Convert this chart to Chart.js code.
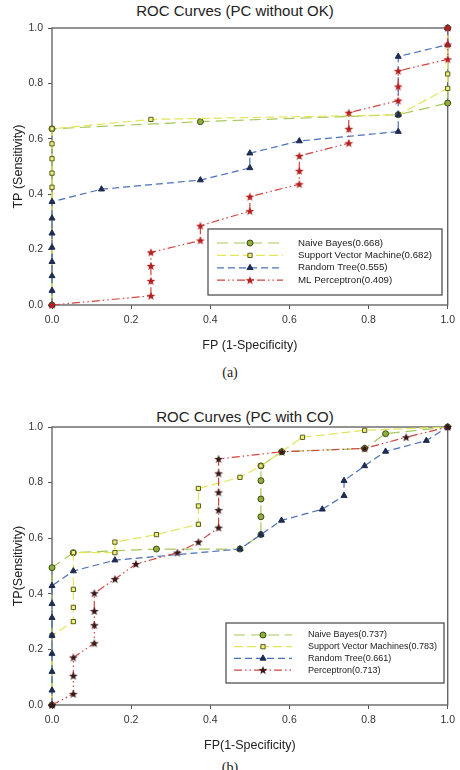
<!DOCTYPE html>
<html>
<head>
<meta charset="utf-8">
<script src="https://cdn.jsdelivr.net/npm/chart.js@4.4.1/dist/chart.umd.min.js"></script>
<style>
  body { margin: 0; background: #fff; width: 460px; height: 770px; position: relative; overflow: hidden; font-family: "Liberation Sans", Arial, sans-serif; }
  .box { position: absolute; left: 0; width: 460px; }
  .ttl { position: absolute; font-size: 15px; color: #222; white-space: nowrap; transform: translateX(-50%); line-height: 18px; }
  .cap { position: absolute; font-family: "Liberation Serif", "Times New Roman", serif; font-size: 14px; color: #222; transform: translateX(-50%); line-height: 16px; }
</style>
</head>
<body>
<div class="ttl" style="left:235px;top:2px">ROC Curves (PC without OK)</div>
<div class="box" style="top:0;height:360px"><canvas id="rocA"></canvas></div>
<div class="cap" style="left:230px;top:365px">(a)</div>

<div class="ttl" style="left:245px;top:408px">ROC Curves (PC with CO)</div>
<div class="box" style="top:390px;height:370px"><canvas id="rocB"></canvas></div>
<div class="cap" style="left:230px;top:760px">(b)</div>

<script>
// --- chart (a): PC without OK ---
const tickValues = [0, 0.2, 0.4, 0.6, 0.8, 1.0];

const labelsA = ['Naive Bayes(0.668)', 'Support Vector Machine(0.682)', 'Random Tree(0.555)', 'ML Perceptron(0.409)'];
const nbFpA = [0, 0, 0.375, 0.875, 1, 1];
const nbTpA = [0, 0.636, 0.662, 0.687, 0.729, 1];
const svmFpA = [0, 0, 0, 0, 0, 0, 0.25, 0.875, 1, 1, 1];
const svmTpA = [0, 0.425, 0.476, 0.528, 0.582, 0.636, 0.670, 0.687, 0.782, 0.834, 1];
const rtFpA = [0, 0, 0, 0, 0, 0, 0, 0, 0.125, 0.375, 0.5, 0.5, 0.625, 0.875, 0.875, 0.875, 1, 1];
const rtTpA = [0, 0.052, 0.105, 0.156, 0.208, 0.259, 0.313, 0.373, 0.418, 0.451, 0.495, 0.548, 0.592, 0.626, 0.687, 0.897, 0.94, 1];
const mlpFpA = [0, 0.25, 0.25, 0.25, 0.25, 0.375, 0.375, 0.5, 0.5, 0.625, 0.625, 0.625, 0.75, 0.75, 0.75, 0.875, 0.875, 0.875, 1, 1, 1];
const mlpTpA = [0, 0.033, 0.087, 0.141, 0.19, 0.233, 0.286, 0.339, 0.391, 0.436, 0.484, 0.538, 0.584, 0.636, 0.694, 0.738, 0.789, 0.845, 0.887, 0.94, 1];

// --- chart (b): PC with CO ---
const labelsB = ['Naive Bayes(0.737)', 'Support Vector Machines(0.783)', 'Random Tree(0.661)', 'Perceptron(0.713)'];
const nbFpB = [0, 0, 0.054, 0.264, 0.475, 0.528, 0.528, 0.528, 0.528, 0.528, 0.581, 0.790, 0.843, 1];
const nbTpB = [0, 0.494, 0.548, 0.561, 0.561, 0.613, 0.677, 0.741, 0.807, 0.860, 0.911, 0.923, 0.976, 1];
const svmFpB = [0, 0, 0.054, 0.054, 0.054, 0.054, 0.159, 0.159, 0.264, 0.37, 0.37, 0.37, 0.475, 0.528, 0.633, 0.79, 1];
const svmTpB = [0, 0.25, 0.30, 0.351, 0.416, 0.548, 0.548, 0.586, 0.613, 0.65, 0.716, 0.779, 0.819, 0.86, 0.963, 0.988, 1];
const rtFpB = [0, 0, 0, 0, 0, 0, 0, 0, 0.054, 0.159, 0.475, 0.528, 0.580, 0.683, 0.738, 0.738, 0.790, 0.843, 0.946, 1];
const rtTpB = [0, 0.053, 0.120, 0.185, 0.250, 0.314, 0.364, 0.429, 0.482, 0.521, 0.561, 0.613, 0.664, 0.704, 0.753, 0.807, 0.860, 0.912, 0.951, 1];
const mlpFpB = [0, 0.054, 0.054, 0.054, 0.107, 0.107, 0.107, 0.107, 0.159, 0.212, 0.317, 0.37, 0.421, 0.421, 0.421, 0.421, 0.421, 0.581, 0.790, 0.895, 1];
const mlpTpB = [0, 0.04, 0.105, 0.171, 0.222, 0.287, 0.338, 0.402, 0.453, 0.507, 0.548, 0.586, 0.638, 0.701, 0.765, 0.833, 0.885, 0.911, 0.923, 0.963, 1];

const pts = (xs, ys) => xs.map((x, i) => ({ x: x, y: ys[i] }));
const FONT = '"Liberation Sans", Arial, sans-serif';

// filled 5-point star as marker
function starImg(color) {
    const c = document.createElement('canvas');
    c.width = c.height = 10;
    const g = c.getContext('2d');
    g.fillStyle = color;
    g.beginPath();
    for (let i = 0; i < 10; i++) {
        const r = i % 2 ? 1.9 : 4.6;
        const a = -Math.PI / 2 + i * Math.PI / 5;
        g.lineTo(5 + r * Math.cos(a), 5.3 + r * Math.sin(a));
    }
    g.closePath();
    g.fill();
    return c;
}

function makeSets(labels, nb, svm, rt, mlp, starColor) {
    return [
        { label: labels[0], data: nb, order: 3, clip: false, borderColor: '#a6c85a', borderDash: [11, 6], borderWidth: 1.2,
          pointStyle: 'circle', pointRadius: 3, pointBackgroundColor: '#8fae3c', pointBorderColor: '#3d4c16', pointBorderWidth: 1 },
        { label: labels[1], data: svm, order: 2, clip: false, borderColor: '#e2e65a', borderDash: [9, 4], borderWidth: 1.2,
          pointStyle: 'rect', pointRadius: 3, pointBackgroundColor: '#eef07e', pointBorderColor: '#5c5c1c', pointBorderWidth: 1 },
        { label: labels[2], data: rt, order: 1, clip: false, borderColor: '#4a70b8', borderDash: [7, 4], borderWidth: 1.2,
          pointStyle: 'triangle', pointRadius: 3.5, pointBackgroundColor: '#1e2b52', pointBorderColor: '#1e2b52', pointBorderWidth: 1 },
        { label: labels[3], data: mlp, order: 0, clip: false, borderColor: '#d2443e', borderDash: [8, 3, 1.5, 3, 1.5, 3], borderWidth: 1.2,
          pointStyle: starImg(starColor), pointRadius: 4, pointBackgroundColor: starColor, pointBorderColor: starColor, pointBorderWidth: 0 }
    ];
}

// frame round the plot + boxed legend inside it
const frameLegend = {
    id: 'frameLegend',
    beforeDatasetsDraw(chart) {
        const { ctx, chartArea: a } = chart;
        ctx.save();
        ctx.strokeStyle = '#666';
        ctx.lineWidth = 1.4;
        ctx.strokeRect(a.left, a.top, a.right - a.left, a.bottom - a.top);
        ctx.restore();
    },
    afterDatasetsDraw(chart, args, o) {
        const { ctx, chartArea: a } = chart;
        ctx.save();
        const x0 = a.left + o.x, y0 = a.top + o.y;
        ctx.fillStyle = '#fff';
        ctx.fillRect(x0, y0, o.w, o.h);
        ctx.strokeStyle = '#444';
        ctx.lineWidth = 1.2;
        ctx.strokeRect(x0, y0, o.w, o.h);
        chart.data.datasets.forEach((ds, i) => {
            const y = y0 + o.row0 + i * o.rowH;
            ctx.setLineDash(ds.borderDash || []);
            ctx.strokeStyle = ds.borderColor;
            ctx.lineWidth = ds.borderWidth;
            ctx.beginPath();
            ctx.moveTo(x0 + o.l1, y);
            ctx.lineTo(x0 + o.l2, y);
            ctx.stroke();
            ctx.setLineDash([]);
            ctx.fillStyle = ds.pointBackgroundColor;
            ctx.strokeStyle = ds.pointBorderColor;
            ctx.lineWidth = 1;
            Chart.helpers.drawPoint(ctx, { pointStyle: ds.pointStyle, radius: ds.pointRadius, borderWidth: ds.pointBorderWidth, rotation: 0 },
                x0 + (o.l1 + o.l2) / 2, y);
            ctx.fillStyle = '#222';
            ctx.font = o.font + 'px ' + FONT;
            ctx.textBaseline = 'middle';
            ctx.textAlign = 'left';
            ctx.fillText(ds.label, x0 + o.tx, y);
        });
        ctx.restore();
    }
};

function rocChart(id, sets, padTop, xTitle, yTitle, leg) {
    return new Chart(document.getElementById(id), {
        type: 'scatter',
        data: { datasets: sets },
        plugins: [frameLegend],
        options: {
            responsive: true,
            maintainAspectRatio: false,
            animation: false,
            showLine: true,
            layout: { padding: { top: padTop, right: 11, left: 0, bottom: 0 } },
            plugins: { legend: { display: false }, tooltip: { enabled: false }, frameLegend: leg },
            elements: { line: { tension: 0, fill: false } },
            scales: {
                x: {
                    type: 'linear', min: 0, max: 1,
                    afterFit(s) { s.height = 55; },
                    afterBuildTicks(s) { s.ticks = tickValues.map(v => ({ value: v })); },
                    ticks: { callback: v => v.toFixed(1), color: '#333', font: { size: 10.5, family: FONT }, padding: 5, maxRotation: 0 },
                    grid: { drawOnChartArea: false, tickLength: 4, color: '#555' },
                    border: { display: false },
                    title: { display: true, text: xTitle, color: '#222', font: { size: 12.5, family: FONT }, padding: { top: 7, bottom: 7 } }
                },
                y: {
                    type: 'linear', min: 0, max: 1,
                    afterFit(s) { s.width = 52; },
                    afterBuildTicks(s) { s.ticks = tickValues.map(v => ({ value: v })); },
                    ticks: { callback: v => v.toFixed(1), color: '#333', font: { size: 10.5, family: FONT }, padding: 5 },
                    grid: { drawOnChartArea: false, tickLength: 4, color: '#555' },
                    border: { display: false },
                    title: { display: true, text: yTitle, color: '#222', font: { size: 12.5, family: FONT }, padding: { top: 11, bottom: 11 } }
                }
            }
        }
    });
}

rocChart('rocA',
    makeSets(labelsA, pts(nbFpA, nbTpA), pts(svmFpA, svmTpA), pts(rtFpA, rtTpA), pts(mlpFpA, mlpTpA), '#b52020'),
    28, 'FP (1-Specificity)', 'TP (Sensitivity)',
    { x: 156, y: 201, w: 234, h: 66, row0: 14, rowH: 12.4, l1: 9, l2: 75, tx: 90, font: 9.7 });

rocChart('rocB',
    makeSets(labelsB, pts(nbFpB, nbTpB), pts(svmFpB, svmTpB), pts(rtFpB, rtTpB), pts(mlpFpB, mlpTpB), '#3a1818'),
    37, 'FP(1-Specificity)', 'TP(Sensitivity)',
    { x: 174, y: 196, w: 218, h: 60, row0: 12, rowH: 11.7, l1: 8, l2: 66, tx: 82, font: 9 });
</script>
</body>
</html>
